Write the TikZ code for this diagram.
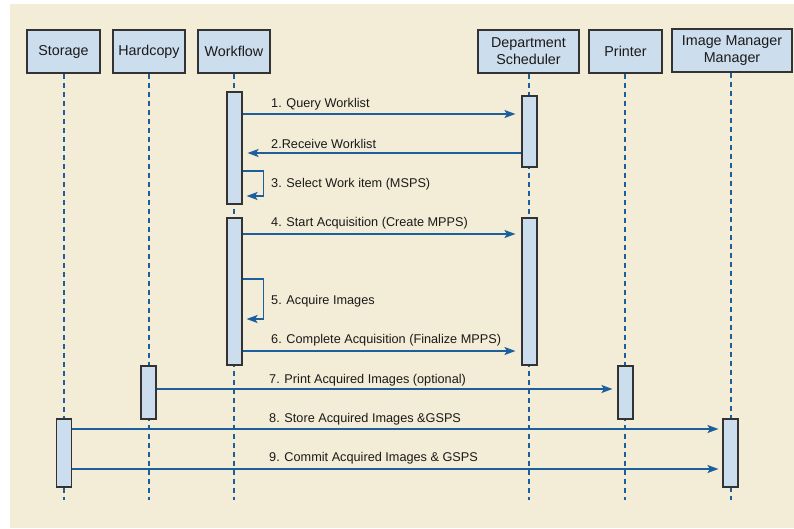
\documentclass[tikz,border=0pt]{standalone}
\usepackage{fontspec}
\setmainfont{Liberation Sans}
\usetikzlibrary{arrows.meta}
\definecolor{bgbeige}{HTML}{F3ECD6}
\definecolor{boxfill}{HTML}{CCDDEE}
\definecolor{boxline}{HTML}{333333}
\definecolor{msgblue}{HTML}{1D5F9C}
\definecolor{txt}{HTML}{1A1A1A}
\tikzset{
  head/.style={draw=boxline, fill=boxfill, line width=1.1pt, minimum height=43pt,
    inner sep=0pt, align=center, text=txt, font=\fontsize{14.3}{17}\selectfont},
  act/.style={draw=boxline, fill=boxfill, line width=1.1pt, minimum width=15pt, inner sep=0pt},
  life/.style={draw=msgblue, line width=1.4pt, dash pattern=on 5pt off 4pt},
  msg/.style={draw=msgblue, line width=1.8pt, -{Stealth[length=11pt,width=8pt,inset=2.5pt]}},
  lbl/.style={anchor=west, inner sep=0pt, text=txt, font=\fontsize{12.7}{15}\selectfont}
}
\begin{document}
\begin{tikzpicture}[x=1pt,y=-1pt]
\useasboundingbox (0,0) rectangle (794,528);
\fill[bgbeige] (10,4) rectangle (794,528);
% headers
\node[head, minimum width=73pt] (st) at (63.5,51.5) {Storage};
\node[head, minimum width=72pt] (hc) at (149,51.5) {Hardcopy};
\node[head, minimum width=72pt] (wf) at (234,51.5) {Workflow};
\node[head, minimum width=101pt] (ds) at (528.5,51.5) {Department\\Scheduler};
\node[head, minimum width=73pt] (pr) at (625.5,51.5) {Printer};
\node[head, minimum width=120pt] (im) at (732,50.5) {Image Manager\\Manager};
% lifeline ends
\coordinate (stE) at (64,500);
\coordinate (hcE) at (149,500);
\coordinate (wfE) at (234,500);
\coordinate (dsE) at (529,500);
\coordinate (prE) at (625,500);
\coordinate (imE) at (731,500);
\draw[life] (st.south -| stE) -- (stE);
\draw[life] (hc.south -| hcE) -- (hcE);
\draw[life] (wf.south -| wfE) -- (wfE);
\draw[life] (ds.south -| dsE) -- (dsE);
\draw[life] (pr.south -| prE) -- (prE);
\draw[life] (im.south -| imE) -- (imE);
% activation boxes
\node[act, minimum height=112pt] (wf1) at (234.5,148) {};
\node[act, minimum height=71pt] (ds1) at (529.5,131.5) {};
\node[act, minimum height=147pt] (wf2) at (234.5,291.5) {};
\node[act, minimum height=147pt] (ds2) at (529.5,291.5) {};
\node[act, minimum height=53pt] (hc1) at (148.5,392.5) {};
\node[act, minimum height=53pt] (pr1) at (625.5,392.5) {};
\node[act, minimum height=68pt] (st1) at (64,453) {};
\node[act, minimum height=68pt] (im1) at (730.5,453) {};
% messages
\draw[msg, shorten >=6pt] (wf1.east |- 0,114) -- (ds1.west |- 0,114);
\node[lbl] (l1) at (271,104) {1. Query Worklist};
\draw[msg, shorten >=5pt] (ds1.west |- 0,153) -- (wf1.east |- 0,153);
\node[lbl] (l2) at (271,144) {2.Receive Worklist};
\draw[msg, shorten >=4pt] (wf1.east |- 0,171) -- ++(21,0) |- (wf1.east |- 0,196);
\node[lbl] (l3) at (271,184) {3. Select Work item (MSPS)};
\draw[msg, shorten >=6pt] (wf2.east |- 0,234) -- (ds2.west |- 0,234);
\node[lbl] (l4) at (271,223) {4. Start Acquisition (Create MPPS)};
\draw[msg, shorten >=4pt] (wf2.east |- 0,279) -- ++(21,0) |- (wf2.east |- 0,319);
\node[lbl] (l5) at (271,301) {5. Acquire Images};
\draw[msg, shorten >=6pt] (wf2.east |- 0,351) -- (ds2.west |- 0,351);
\node[lbl] (l6) at (271,340) {6. Complete Acquisition (Finalize MPPS)};
\draw[msg, shorten >=5pt] (hc1.east |- 0,389) -- (pr1.west |- 0,389);
\node[lbl] (l7) at (269,380) {7. Print Acquired Images (optional)};
\draw[msg, shorten >=4pt] (st1.east |- 0,429) -- (im1.west |- 0,429);
\node[lbl] (l8) at (269,419) {8. Store Acquired Images \&GSPS};
\draw[msg, shorten >=4pt] (st1.east |- 0,469) -- (im1.west |- 0,469);
\node[lbl] (l9) at (269,458) {9. Commit Acquired Images \& GSPS};
\end{tikzpicture}
\end{document}
